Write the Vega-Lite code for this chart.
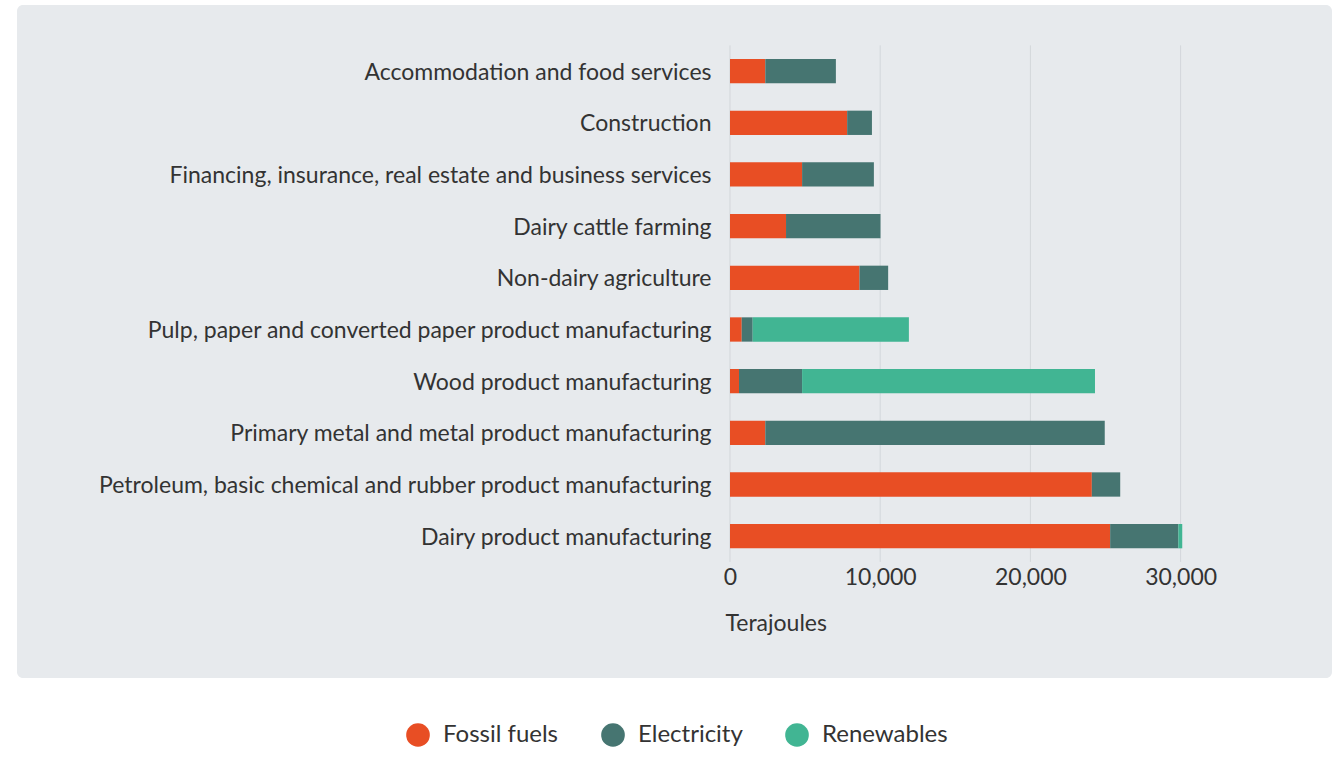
{
  "$schema": "https://vega.github.io/schema/vega-lite/v6.json",
  "width": 1315,
  "height": 673,
  "autosize": "none",
  "padding": {"left": 17, "top": 5, "right": 11, "bottom": 91},
  "background": "white",
  "config": {
    "view": {"fill": "#e7eaed", "stroke": null, "cornerRadius": 6},
    "font": "Lato",
    "axis": {"labelColor": "#333333", "titleColor": "#333333", "labelFontSize": 23, "titleFontSize": 23, "titleFontWeight": "normal", "domain": false, "ticks": false, "grid": false}
  },
  "layer": [
    {
      "data": {"values": [
        {"tick": 0, "top": "Accommodation and food services", "bottom": "Dairy product manufacturing"},
        {"tick": 10000, "top": "Accommodation and food services", "bottom": "Dairy product manufacturing"},
        {"tick": 20000, "top": "Accommodation and food services", "bottom": "Dairy product manufacturing"},
        {"tick": 30000, "top": "Accommodation and food services", "bottom": "Dairy product manufacturing"}
      ]},
      "mark": {"type": "rule", "color": "#d3d7db", "strokeWidth": 1},
      "encoding": {
        "x": {"field": "tick", "type": "quantitative", "scale": {"domain": [-47470, 40080], "nice": false, "zero": false},
          "axis": {"values": [0, 10000, 20000, 30000], "format": ",.0f", "offset": -123, "labelPadding": 11, "title": "Terajoules", "titleX": 708, "titleY": 68, "titleAlign": "left", "titleAnchor": null, "titleBaseline": "middle"}},
        "y": {"field": "top", "type": "nominal", "bandPosition": -0.56, "scale": {"domain": ["Accommodation and food services", "Construction", "Financing, insurance, real estate and business services", "Dairy cattle farming", "Non-dairy agriculture", "Pulp, paper and converted paper product manufacturing", "Wood product manufacturing", "Primary metal and metal product manufacturing", "Petroleum, basic chemical and rubber product manufacturing", "Dairy product manufacturing"], "paddingInner": 0.5297, "paddingOuter": 0.2648, "range": [40.3, 557]},
          "axis": {"title": null, "offset": -713, "labelPadding": 19, "labelLimit": 1000, "labelOffset": 1.5}},
        "y2": {"field": "bottom", "bandPosition": 1.56}
      }
    },
    {
      "data": {"values": [
        {"sector": "Accommodation and food services", "type": "Fossil fuels", "ord": 1, "value": 2350},
        {"sector": "Accommodation and food services", "type": "Electricity", "ord": 2, "value": 4700},
        {"sector": "Construction", "type": "Fossil fuels", "ord": 1, "value": 7800},
        {"sector": "Construction", "type": "Electricity", "ord": 2, "value": 1650},
        {"sector": "Financing, insurance, real estate and business services", "type": "Fossil fuels", "ord": 1, "value": 4800},
        {"sector": "Financing, insurance, real estate and business services", "type": "Electricity", "ord": 2, "value": 4780},
        {"sector": "Dairy cattle farming", "type": "Fossil fuels", "ord": 1, "value": 3730},
        {"sector": "Dairy cattle farming", "type": "Electricity", "ord": 2, "value": 6290},
        {"sector": "Non-dairy agriculture", "type": "Fossil fuels", "ord": 1, "value": 8620},
        {"sector": "Non-dairy agriculture", "type": "Electricity", "ord": 2, "value": 1910},
        {"sector": "Pulp, paper and converted paper product manufacturing", "type": "Fossil fuels", "ord": 1, "value": 780},
        {"sector": "Pulp, paper and converted paper product manufacturing", "type": "Electricity", "ord": 2, "value": 730},
        {"sector": "Pulp, paper and converted paper product manufacturing", "type": "Renewables", "ord": 3, "value": 10400},
        {"sector": "Wood product manufacturing", "type": "Fossil fuels", "ord": 1, "value": 600},
        {"sector": "Wood product manufacturing", "type": "Electricity", "ord": 2, "value": 4200},
        {"sector": "Wood product manufacturing", "type": "Renewables", "ord": 3, "value": 19500},
        {"sector": "Primary metal and metal product manufacturing", "type": "Fossil fuels", "ord": 1, "value": 2350},
        {"sector": "Primary metal and metal product manufacturing", "type": "Electricity", "ord": 2, "value": 22600},
        {"sector": "Petroleum, basic chemical and rubber product manufacturing", "type": "Fossil fuels", "ord": 1, "value": 24090},
        {"sector": "Petroleum, basic chemical and rubber product manufacturing", "type": "Electricity", "ord": 2, "value": 1890},
        {"sector": "Dairy product manufacturing", "type": "Fossil fuels", "ord": 1, "value": 25310},
        {"sector": "Dairy product manufacturing", "type": "Electricity", "ord": 2, "value": 4540},
        {"sector": "Dairy product manufacturing", "type": "Renewables", "ord": 3, "value": 260}
      ]},
      "mark": {"type": "bar"},
      "encoding": {
        "x": {"field": "value", "type": "quantitative", "stack": "zero", "scale": {"domain": [-47470, 40080], "nice": false, "zero": false},
          "axis": {"values": [0, 10000, 20000, 30000], "format": ",.0f", "offset": -123, "labelPadding": 11, "title": "Terajoules", "titleX": 708, "titleY": 68, "titleAlign": "left", "titleAnchor": null, "titleBaseline": "middle"}},
        "y": {"field": "sector", "type": "nominal", "scale": {"domain": ["Accommodation and food services", "Construction", "Financing, insurance, real estate and business services", "Dairy cattle farming", "Non-dairy agriculture", "Pulp, paper and converted paper product manufacturing", "Wood product manufacturing", "Primary metal and metal product manufacturing", "Petroleum, basic chemical and rubber product manufacturing", "Dairy product manufacturing"], "paddingInner": 0.5297, "paddingOuter": 0.2648, "range": [40.3, 557]},
          "axis": {"title": null, "offset": -713, "labelPadding": 19, "labelLimit": 1000, "labelOffset": 1.5}},
        "color": {"field": "type", "type": "nominal",
          "scale": {"domain": ["Fossil fuels", "Electricity", "Renewables"], "range": ["#e84e24", "#467571", "#41b593"]},
          "legend": {"orient": "none", "legendX": 389, "legendY": 718, "direction": "horizontal", "title": null, "symbolType": "circle", "symbolSize": 560, "symbolStrokeWidth": 0, "symbolOpacity": 1, "labelFontSize": 24, "labelColor": "#333333", "labelOffset": 13, "columnPadding": 42, "labelLimit": 0}},
        "order": {"field": "ord", "type": "quantitative"}
      }
    }
  ]
}
